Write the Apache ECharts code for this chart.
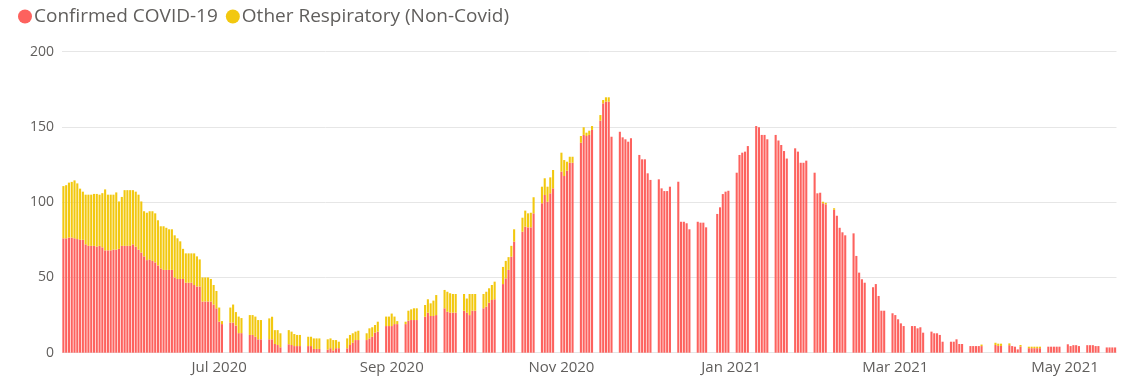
<!DOCTYPE html>
<html>
<head>
<meta charset="utf-8">
<script src="https://cdn.jsdelivr.net/npm/echarts@6/dist/echarts.min.js"></script>
<style>
  html, body { margin: 0; padding: 0; background: #ffffff; }
  #chart { width: 1130px; height: 381px; }
</style>
</head>
<body>
<div id="chart"></div>
<script>
// Daily admissions from 2020-05-06 to 2021-05-19; null = no report that day.
const firstDay = '2020-05-06';
const _ = null;

const seriesNames = ['Confirmed COVID-19', 'Other Respiratory (Non-Covid)'];

// first row: Wed-Sat, then one row per week (Sun..Sat)
const covid = [
  76, 76, 76.5, 76.5,
  76, 75.5, 75, 75, 72, 71, 71,
  71, 70.5, 71, 70, 68, 68, 68,
  68.5, 68.5, 69, 71, 71, 71, 71,
  72, 70.5, 68.5, 66.5, 64, 61.5, 62,
  61, 60, 58, 56, 55, 55, 55,
  55, 50, 49, 49, 49, 46.5, 46.5,
  46.5, 45, 44, 44, 34, 34, 34,
  34, 32, 29.5, 20.6, 19, _, _,
  20, 20, 18, 13, 13, _, _,
  11.8, 11.8, 10.6, 8.9, 8.9, _, _,
  8.9, 8.9, 5.8, 5.1, 3.6, _, _,
  5.6, 5.1, 4.4, 4.4, 4.4, _, _,
  4.4, 4.4, 2.5, 2.5, 2.5, _, _,
  2, 3, 1.5, 3, 3, _, _,
  2.9, 5.1, 6.6, 8.4, 8.4, _, _,
  8.4, 9.5, 10.6, 13.3, 14, _, _,
  17.7, 17.7, 17.7, 19, 19, _, _,
  19, 21.3, 21.7, 21.7, 21.7, _, _,
  23.9, 26.6, 24.4, 24.4, 25, _, _,
  29.5, 27.2, 26.6, 26.6, 26.6, _, _,
  27.9, 26.6, 25, 27.9, 27.9, _, _,
  29.5, 30.6, 33.2, 35, 35.5, _, _,
  45.6, 49.4, 55, 63.8, 73.8, _, _,
  80.4, 83.7, 83.3, 83.3, 92.6, _, _,
  99.3, 104.8, 100.3, 105.9, 109.2, _, _,
  120.3, 117.4, 120.9, 126.2, 126.2, _, _,
  139.5, 144.7, 144, 144.7, 148, _, _,
  154.2, 165.7, 166.8, 166.8, 143.5, _, _,
  146.8, 143.1, 141.8, 140.2, 142.5, _, _,
  131.4, 128.5, 128.5, 119.2, 114.8, _, _,
  115.2, 109.2, 107.4, 107.4, 110.3, _, _,
  113.6, 87, 87, 86, 82, _, _,
  87, 86.4, 86.4, 83.3, _, _, _,
  92.2, 96.6, 105.4, 107, 107.6, _, _,
  119.6, 131.4, 132.9, 133.6, 137.3, _, _,
  150.6, 149.8, 144.7, 144.7, 141.8, _, _,
  144.7, 141, 138, 134, 129, _, _,
  135.8, 133.6, 126.2, 126.2, 127.6, _, _,
  119.6, 105.9, 106.3, 99.3, 98.6, _, _,
  95, 91, 83, 80, 78, _, _,
  79.3, 64.3, 53.2, 48.8, 46.5, _, _,
  43.5, 45.6, 37.7, 27.9, 27.9, _, _,
  26.2, 25, 22.2, 19.5, 17.7, _, _,
  17.7, 17.7, 16.2, 16.9, 13.3, _, _,
  14, 12.9, 12.9, 11.8, 7.3, _, _,
  7.3, 7.3, 8.9, 5.8, 5.8, _, _,
  4.4, 4.4, 4.4, 4.4, 4.4, _, _,
  _, _, 5.1, 4.5, 4.5, _, _,
  5, 4.4, 4, 2.2, 4, _, _,
  3, 3, 3, 3, 3, _, _,
  4, 4, 4, 4, 4, _, _,
  5.6, 4.4, 5, 5, 4.4, _, _,
  5, 5, 5, 4.4, 4.4, _, _,
  3.5, 3.5, 3.5, 3.5
];

const other = [
  34.7, 35.3, 36.5, 37,
  38.5, 37, 34, 32, 33, 34, 34,
  34.5, 35, 34, 36, 40.5, 37, 37,
  36.5, 38, 31.5, 32.5, 37, 37, 37,
  36, 36.5, 36.5, 34, 30, 31.5, 32,
  33, 32.6, 30, 28, 29, 28, 27,
  27, 28, 27, 25, 20, 19.5, 19.5,
  19.5, 21, 20, 18, 16, 16, 16,
  15, 13, 11.5, 9.4, 2, _, _,
  10, 12, 9, 11, 10, _, _,
  13.2, 13.2, 13.4, 12.8, 12.8, _, _,
  13.9, 15, 9.2, 9.9, 9.3, _, _,
  9.4, 8.9, 8, 7.4, 7.4, _, _,
  6.2, 6.2, 7, 7, 7, _, _,
  6.9, 6.5, 6.9, 5.4, 4.3, _, _,
  6.6, 6.7, 6.3, 5.6, 6.2, _, _,
  4.5, 6.7, 6.3, 5.1, 6.6, _, _,
  6.3, 6.3, 8.3, 5, 2, _, _,
  1.6, 6.6, 7.1, 7.8, 7.8, _, _,
  7.8, 8.9, 8.4, 10.2, 13.3, _, _,
  12.2, 13.3, 12.9, 12.4, 12.4, _, _,
  11.1, 9.4, 14, 11.1, 11.1, _, _,
  9.5, 9.9, 9.6, 10, 11.7, _, _,
  11.4, 11.6, 8.5, 7.2, 8.2, _, _,
  9.3, 10.7, 9.3, 9.7, 10.7, _, _,
  11, 11.1, 10, 10.6, 12.2, _, _,
  12.6, 10.6, 6, 4, 4, _, _,
  4.5, 5.1, 2.2, 2.8, 2.6, _, _,
  3.7, 2.2, 2.9, 2.9, 0, _, _,
  0, 0, 0, 0, 0, _, _,
  0, 0, 0, 0, 0, _, _,
  0, 0, 0, 0, 0, _, _,
  0, 0, 0, 0, 0, _, _,
  0, 0, 0, 0, _, _, _,
  0, 0, 0, 0, 0, _, _,
  0, 0, 0, 0, 0, _, _,
  0, 0, 0, 0, 0, _, _,
  0, 0, 0, 0, 0, _, _,
  0, 0, 0, 0, 0, _, _,
  0, 0, 0, 1, 1, _, _,
  1, 0, 0, 0, 0, _, _,
  0, 0, 0, 0, 0, _, _,
  0, 0, 0, 0, 0, _, _,
  0, 0, 0, 0, 0, _, _,
  0, 0, 0, 0, 0, _, _,
  0, 0, 0, 0, 0, _, _,
  0, 0, 0, 0, 0, _, _,
  0, 0, 0, 0, 1, _, _,
  _, _, 1.5, 1.5, 1.5, _, _,
  1.2, 0, 0, 0, 1.1, _, _,
  1, 1, 1, 1, 1, _, _,
  0, 0, 0, 0, 0, _, _,
  0, 0, 0, 0, 0, _, _,
  0, 0, 0, 0, 0, _, _,
  0, 0, 0, 0
];

const yTicks = { min: 0, max: 200, interval: 50 };
const monthNames = ['Jan','Feb','Mar','Apr','May','Jun','Jul','Aug','Sep','Oct','Nov','Dec'];
const labelledMonths = [0, 2, 4, 6, 8, 10];   // Jan, Mar, May, Jul, Sep, Nov

// one category per calendar day
const days = [];
{
  const d = new Date(firstDay + 'T00:00:00Z');
  for (let i = 0; i < covid.length; i++) {
    days.push(d.toISOString().slice(0, 10));
    d.setUTCDate(d.getUTCDate() + 1);
  }
}

function isLabelDay(s) {
  const m = +s.slice(5, 7) - 1;
  return s.slice(8, 10) === '01' && labelledMonths.indexOf(m) >= 0;
}

const FONT = '"Segoe UI", "Open Sans", "Noto Sans", sans-serif';

const chart = echarts.init(document.getElementById('chart'), null, { renderer: 'canvas' });
chart.setOption({
  animation: false,
  backgroundColor: '#ffffff',
  color: ['#FD625E', '#F2C80F'],
  legend: {
    data: seriesNames,
    left: 13,
    top: 2,
    icon: 'circle',
    itemWidth: 14,
    itemHeight: 14,
    itemGap: 8,
    textStyle: { fontFamily: FONT, fontSize: 19, color: '#605E5C', padding: [0, 0, 0, -3] }
  },
  grid: { left: 62, right: 13.5, top: 51.7, bottom: 28.3, containLabel: false },
  xAxis: {
    type: 'category',
    data: days,
    axisLine: { show: false },
    axisTick: { show: false },
    splitLine: { show: false },
    axisLabel: {
      interval: (idx, val) => isLabelDay(val),
      formatter: (val) => monthNames[+val.slice(5, 7) - 1] + ' ' + val.slice(0, 4),
      fontFamily: FONT,
      fontSize: 15,
      color: '#605E5C',
      margin: 8
    }
  },
  yAxis: {
    type: 'value',
    min: yTicks.min,
    max: yTicks.max,
    interval: yTicks.interval,
    axisLine: { show: false },
    axisTick: { show: false },
    splitLine: { lineStyle: { color: '#E6E6E6', width: 1 } },
    axisLabel: { fontFamily: FONT, fontSize: 14, color: '#605E5C', margin: 8 }
  },
  series: [
    {
      name: seriesNames[0],
      type: 'bar',
      stack: 'admissions',
      data: covid,
      barCategoryGap: '25%',
      itemStyle: { color: '#FD625E' }
    },
    {
      name: seriesNames[1],
      type: 'bar',
      stack: 'admissions',
      data: other,
      barCategoryGap: '25%',
      itemStyle: { color: '#F2C80F' }
    }
  ]
});
</script>
</body>
</html>
